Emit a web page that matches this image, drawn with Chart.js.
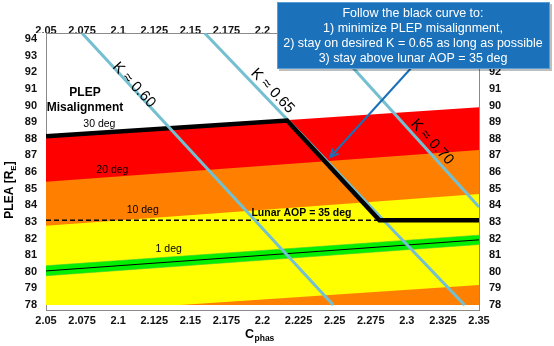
<!DOCTYPE html>
<html>
<head>
<meta charset="utf-8">
<script src="https://cdn.jsdelivr.net/npm/chart.js@4.4.1/dist/chart.umd.min.js"></script>
<style>
  html, body { margin: 0; padding: 0; background: #fff; }
  canvas { display: block; }
</style>
</head>
<body>
<canvas id="plepChart" width="554" height="346"></canvas>
<script>
// ===== data =====
const xTicks = [2.05, 2.075, 2.1, 2.125, 2.15, 2.175, 2.2, 2.225, 2.25, 2.275, 2.3, 2.325, 2.35];
const yTicks = [78, 79, 80, 81, 82, 83, 84, 85, 86, 87, 88, 89, 90, 91, 92, 93, 94];

// misalignment band edges (PLEA at C = 2.05 and C = 2.35)
const edgeX = [2.05, 2.35];
const deg30 = [88.15, 89.9];
const deg20 = [85.42, 87.33];
const deg10 = [82.76, 84.68];
const lowOrangeX = [2.143, 2.35];
const lowOrangeY = [78, 79.2];
const greenLow = [79.76, 81.64];
const greenHigh = [80.36, 82.2];
const deg1 = [80.05, 81.92];

// constant K contours
const k60X = [2.075, 2.249], k60Y = [94.35, 78];
const k65X = [2.160, 2.340], k65Y = [94.35, 78];
const k70X = [2.241, 2.35], k70Y = [94.35, 83.9];

// recommended path + lunar AOP limit
const pathX = [2.05, 2.217, 2.281, 2.35];
const pathY = [88.15, 89.1, 83.1, 83.1];
const aopX = [2.05, 2.281];
const aopY = [83.1, 83.1];

const FONT = "'Liberation Sans', Arial, Helvetica, sans-serif";

function pts(xs, ys) {
  return xs.map((x, i) => ({ x: x, y: ys[i] }));
}

function band(ys, color, order) {
  return {
    data: pts(edgeX, ys), showLine: true, pointRadius: 0, borderWidth: 0,
    backgroundColor: color, fill: { value: 78 }, order: order
  };
}

function line(data, color, width, order, dash) {
  return {
    data: data, showLine: true, pointRadius: 0, borderColor: color,
    borderWidth: width, borderDash: dash || [], fill: false, order: order
  };
}

// ===== labels inside the plot =====
const textLabels = {
  id: 'textLabels',
  afterDatasetsDraw(chart) {
    const { ctx, scales: { x, y } } = chart;
    ctx.save();
    ctx.textAlign = 'center';
    ctx.textBaseline = 'middle';
    ctx.fillStyle = '#000';

    ctx.font = 'bold 12px ' + FONT;
    ctx.fillText('PLEP', x.getPixelForValue(2.077), y.getPixelForValue(90.75));
    ctx.fillText('Misalignment', x.getPixelForValue(2.077), y.getPixelForValue(89.85));

    ctx.font = '10.5px ' + FONT;
    ctx.fillText('30 deg', x.getPixelForValue(2.087), y.getPixelForValue(88.9));
    ctx.fillText('20 deg', x.getPixelForValue(2.096), y.getPixelForValue(86.1));
    ctx.fillText('10 deg', x.getPixelForValue(2.117), y.getPixelForValue(83.7));
    ctx.fillText('1 deg', x.getPixelForValue(2.135), y.getPixelForValue(81.35));

    ctx.font = 'bold 10.5px ' + FONT;
    ctx.fillText('Lunar AOP = 35 deg', x.getPixelForValue(2.227), y.getPixelForValue(83.5));

    // K labels rotated along their contour
    const kLabels = [
      ['K \u2248 0.60', k60X, k60Y, 2.111, 91.23],
      ['K \u2248 0.65', k65X, k65Y, 2.207, 90.87],
      ['K \u2248 0.70', k70X, k70Y, 2.3175, 87.8]
    ];
    ctx.font = '15px ' + FONT;
    kLabels.forEach(([txt, xs, ys, cx, cy]) => {
      const dx = x.getPixelForValue(xs[1]) - x.getPixelForValue(xs[0]);
      const dy = y.getPixelForValue(ys[1]) - y.getPixelForValue(ys[0]);
      ctx.save();
      ctx.translate(x.getPixelForValue(cx), y.getPixelForValue(cy));
      ctx.rotate(Math.atan2(dy, dx));
      ctx.fillText(txt, 0, 0);
      ctx.restore();
    });
    ctx.restore();
  }
};

// ===== axis titles, callout box and arrow =====
const extras = {
  id: 'extras',
  afterDraw(chart) {
    const { ctx, scales: { x, y } } = chart;
    ctx.save();
    ctx.fillStyle = '#000';
    ctx.textBaseline = 'alphabetic';

    // y title: PLEA [R_E]
    ctx.save();
    ctx.translate(13, 190);
    ctx.rotate(-Math.PI / 2);
    ctx.font = 'bold 12px ' + FONT;
    const a = 'PLEA [R', b = 'E', c = ']';
    const wa = ctx.measureText(a).width, wc = ctx.measureText(c).width;
    ctx.font = 'bold 8px ' + FONT;
    const wb = ctx.measureText(b).width;
    let px = -(wa + wb + wc) / 2;
    ctx.font = 'bold 12px ' + FONT;
    ctx.textAlign = 'left';
    ctx.fillText(a, px, 0);
    ctx.font = 'bold 8px ' + FONT;
    ctx.fillText(b, px + wa, 3);
    ctx.font = 'bold 12px ' + FONT;
    ctx.fillText(c, px + wa + wb, 0);
    ctx.restore();

    // x title: C_phas
    ctx.textAlign = 'left';
    ctx.font = 'bold 12.5px ' + FONT;
    ctx.fillText('C', 245, 338);
    ctx.font = 'bold 8.5px ' + FONT;
    ctx.fillText('phas', 254.5, 341);

    // arrow from the callout to the path
    const tipX = x.getPixelForValue(2.247), tipY = y.getPixelForValue(86.9);
    const sx = 413, sy = 66;
    ctx.strokeStyle = '#1a70b8';
    ctx.lineWidth = 2;
    ctx.beginPath();
    ctx.moveTo(sx, sy);
    ctx.lineTo(tipX, tipY);
    ctx.stroke();
    const ang = Math.atan2(tipY - sy, tipX - sx);
    ctx.beginPath();
    ctx.moveTo(tipX - 9 * Math.cos(ang - 0.45), tipY - 9 * Math.sin(ang - 0.45));
    ctx.lineTo(tipX, tipY);
    ctx.lineTo(tipX - 9 * Math.cos(ang + 0.45), tipY - 9 * Math.sin(ang + 0.45));
    ctx.stroke();

    // callout box
    ctx.fillStyle = 'rgba(0,0,0,0.25)';
    ctx.fillRect(279, 4, 273, 67);
    ctx.fillStyle = '#1b72ba';
    ctx.fillRect(277, 2, 273, 67);
    ctx.strokeStyle = '#5a9ed6';
    ctx.lineWidth = 1;
    ctx.strokeRect(277.5, 2.5, 272, 66);
    ctx.fillStyle = '#fff';
    ctx.font = '12.5px ' + FONT;
    ctx.textAlign = 'center';
    ctx.textBaseline = 'middle';
    const lines = [
      'Follow the black curve to:',
      '1) minimize PLEP misalignment,',
      '2) stay on desired K = 0.65 as long as possible',
      '3) stay above lunar AOP = 35 deg'
    ];
    lines.forEach((t, i) => ctx.fillText(t, 413, 14 + i * 15));
    ctx.restore();
  }
};

const tickFont = { family: FONT, size: 11, weight: 'bold' };
const fmt = v => String(+Number(v).toFixed(3));

function xScale(position, height, pad) {
  return {
    type: 'linear', position: position, min: 2.05, max: 2.35,
    grid: { display: false, drawTicks: false },
    border: { display: true, color: '#8a8a8a', width: 1 },
    ticks: { font: tickFont, color: '#111', padding: pad, maxRotation: 0, autoSkip: false, callback: fmt },
    afterBuildTicks: s => { s.ticks = xTicks.map(v => ({ value: v })); },
    afterFit: s => { s.height = height; }
  };
}

function yScale(position, width, pad) {
  return {
    type: 'linear', position: position, min: 77.7, max: 94.36,
    grid: { display: false, drawTicks: false },
    border: { display: true, color: '#8a8a8a', width: 1 },
    ticks: { font: tickFont, color: '#111', padding: pad, autoSkip: false, callback: fmt },
    afterBuildTicks: s => { s.ticks = yTicks.map(v => ({ value: v })); },
    afterFit: s => { s.width = width; }
  };
}

const ctx = document.getElementById('plepChart').getContext('2d');
new Chart(ctx, {
  type: 'scatter',
  data: {
    datasets: [
      band(deg30, '#ff0000', 20),
      band(deg20, '#ff8000', 19),
      band(deg10, '#ffff00', 18),
      {
        data: pts(lowOrangeX, lowOrangeY), showLine: true, pointRadius: 0, borderWidth: 0,
        backgroundColor: '#ff8000', fill: { value: 78 }, order: 17
      },
      {
        data: pts(edgeX, greenHigh), showLine: true, pointRadius: 0, borderWidth: 0.6,
        borderColor: '#3cc93c', backgroundColor: '#00f000', fill: '+1', order: 16
      },
      line(pts(edgeX, greenLow), '#3cc93c', 0.6, 15),
      line(pts(edgeX, deg1), '#000', 1, 14),
      line(pts(aopX, aopY), '#000', 1.4, 13, [5, 3]),
      line(pts(k65X, k65Y), '#74bfd0', 3, 12),
      line(pts(k70X, k70Y), '#74bfd0', 3, 11),
      line(pts(pathX, pathY), '#000', 4.5, 10),
      line(pts(k60X, k60Y), '#74bfd0', 3, 9)
    ]
  },
  options: {
    responsive: false,
    animation: false,
    layout: { padding: 0 },
    plugins: { legend: { display: false }, tooltip: { enabled: false } },
    scales: {
      x: xScale('bottom', 36, 4),
      x2: xScale('top', 33, -5),
      y: yScale('left', 46, 9),
      y2: yScale('right', 75, 10)
    }
  },
  plugins: [textLabels, extras]
});
</script>
</body>
</html>
